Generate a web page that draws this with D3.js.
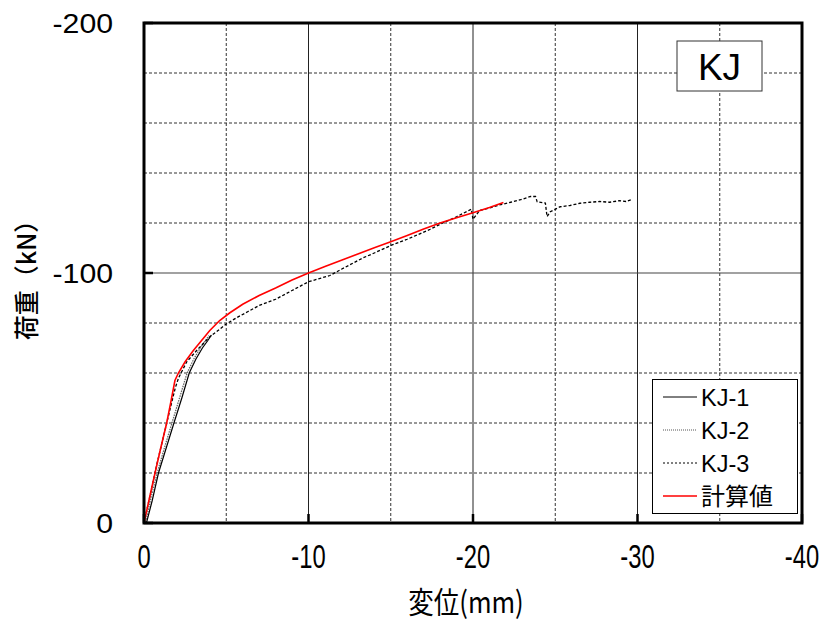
<!DOCTYPE html>
<html><head><meta charset="utf-8">
<script src="https://cdn.jsdelivr.net/npm/d3@7"></script>
<style>
html,body{margin:0;padding:0;background:#fff;}
svg{display:block;font-family:"Liberation Sans",Arial,sans-serif;}
.cjk{font-family:"Noto Sans CJK JP","Liberation Sans",sans-serif;}
</style></head>
<body><svg id="c" width="830" height="623"></svg>
<script>
// ---- data ----
const xTicks = [0, -10, -20, -30, -40];
const yTicks = [0, -100, -200];
const xMinor = [-5, -15, -25, -35];
const yMinor = [-20, -40, -60, -80, -120, -140, -160, -180];
const seriesNames = ["KJ-1", "KJ-2", "KJ-3", "計算値"];

const kj1X = [0, -0.15, -0.5, -0.88, -1.35, -1.82, -2.3, -2.75, -3.15, -3.55, -3.88, -4.1];
const kj1Y = [0, 0, -9, -20, -30, -40, -50, -60, -65.5, -70, -73, -75.2];

const kj2X = [0, -0.1, -0.42, -0.8, -1.24, -1.7, -2.16, -2.62, -3.02, -3.42, -3.74, -3.95];
const kj2Y = [0, 0, -10, -20, -30, -40, -50, -60, -65.5, -70, -73, -75];

const kj3X = [0, -0.4, -0.8, -1.2, -1.6, -1.9, -2.1, -2.6, -3.2, -4.0, -4.5, -5.0, -5.6, -6.3, -7.0, -8.0, -9.0, -10.0, -11.3, -12.0, -13.3, -14.0, -15.0, -16.0, -17.4, -18.0, -19.0, -19.9, -20.0, -20.4, -21.0, -21.6, -22.3, -22.9, -23.5, -23.8, -23.9, -24.4, -24.5, -24.7, -25.3, -25.9, -26.5, -27.1, -27.7, -28.3, -28.9, -29.3, -29.7];
const kj3Y = [0, -12, -24, -35, -46, -54, -58, -64.5, -69, -74.5, -77, -79.6, -82, -84.5, -87, -89.5, -93, -96.5, -99, -101.5, -106, -108, -111, -113.5, -117.5, -119.5, -122.5, -125.5, -121.5, -125, -126, -127.2, -128.3, -129.3, -130.6, -130.6, -128.5, -128, -122.6, -124.5, -126.5, -127, -127.9, -128.3, -128.6, -128.3, -128.9, -128.6, -129.5];

const calcX = [0, -0.35, -0.67, -1.0, -1.38, -1.65, -1.88, -2.09, -2.5, -3.0, -3.5, -4.0, -4.6, -5.2, -6, -7, -8, -9, -10, -11, -12, -13, -14, -15, -16, -17, -18, -19, -20, -21, -21.85];
const calcY = [0, -10.5, -20, -29.5, -40, -49, -57, -60, -64.5, -69, -73, -77, -81, -84, -87.5, -91, -94, -97.2, -100, -102.6, -105.1, -107.6, -110.1, -112.5, -115, -117.6, -120, -122.1, -124.1, -126.2, -128.2];

// ---- chart ----
const svg = d3.select("#c");
const L = 144, R = 802, T = 23, B = 523;
const x = d3.scaleLinear().domain([0, -40]).range([L, R]);
const y = d3.scaleLinear().domain([0, -200]).range([B, T]);
const fmt = d => String(d);

svg.append("rect").attr("width", 830).attr("height", 623).attr("fill", "#fff");

const g = svg.append("g");
g.selectAll(".vx").data(xMinor).enter().append("line")
  .attr("x1", d => x(d)).attr("x2", d => x(d)).attr("y1", T).attr("y2", B)
  .attr("stroke", "#333").attr("stroke-width", 1).attr("stroke-dasharray", "3,2");
g.selectAll(".hy").data(yMinor).enter().append("line")
  .attr("x1", L).attr("x2", R).attr("y1", d => y(d)).attr("y2", d => y(d))
  .attr("stroke", "#333").attr("stroke-width", 1).attr("stroke-dasharray", "3,2");
g.selectAll(".vmx").data(xTicks.slice(1, -1)).enter().append("line")
  .attr("x1", d => x(d)).attr("x2", d => x(d)).attr("y1", T).attr("y2", B)
  .attr("stroke", "#222").attr("stroke-width", 1);
g.selectAll(".hmy").data(yTicks.slice(1, -1)).enter().append("line")
  .attr("x1", L).attr("x2", R).attr("y1", d => y(d)).attr("y2", d => y(d))
  .attr("stroke", "#444").attr("stroke-width", 1.2);

const line = d3.line().x(d => x(d[0])).y(d => y(d[1]));
const zip = (a, b) => a.map((v, i) => [v, b[i]]);
svg.append("path").datum(zip(kj2X, kj2Y)).attr("d", line).attr("fill", "none")
  .attr("stroke", "#666").attr("stroke-width", 1.3).attr("stroke-dasharray", "1.5,1");
svg.append("path").datum(zip(kj1X, kj1Y)).attr("d", line).attr("fill", "none")
  .attr("stroke", "#000").attr("stroke-width", 1.2);
svg.append("path").datum(zip(kj3X, kj3Y)).attr("d", line).attr("fill", "none")
  .attr("stroke", "#000").attr("stroke-width", 1.3).attr("stroke-dasharray", "3,2");
svg.append("path").datum(zip(calcX, calcY)).attr("d", line).attr("fill", "none")
  .attr("stroke", "#ff0000").attr("stroke-width", 1.6);

svg.selectAll(".xt").data(xTicks).enter().append("line")
  .attr("x1", d => x(d)).attr("x2", d => x(d)).attr("y1", B).attr("y2", B - 9)
  .attr("stroke", "#000").attr("stroke-width", 2.5);
svg.selectAll(".yt").data(yTicks).enter().append("line")
  .attr("x1", L).attr("x2", L + 9).attr("y1", d => y(d)).attr("y2", d => y(d))
  .attr("stroke", "#000").attr("stroke-width", 2.5);

svg.append("rect").attr("x", L).attr("y", T).attr("width", R - L).attr("height", B - T)
  .attr("fill", "none").attr("stroke", "#000").attr("stroke-width", 3);

svg.selectAll(".xl").data(xTicks).enter().append("text")
  .attr("transform", d => `translate(${x(d)},568) scale(0.7,1)`)
  .attr("text-anchor", "middle").attr("font-size", 34).attr("fill", "#000")
  .text(fmt);
svg.selectAll(".yl").data(yTicks).enter().append("text")
  .attr("transform", d => `translate(113,${y(d) + 10}) scale(1.08,1)`)
  .attr("text-anchor", "end").attr("font-size", 28).attr("fill", "#000")
  .text(fmt);

svg.append("text").attr("class", "cjk")
  .attr("transform", "translate(466,613) scale(0.85,1)")
  .attr("text-anchor", "middle").attr("font-size", 30).attr("fill", "#000")
  .text("変位(mm)");
svg.append("text").attr("class", "cjk")
  .attr("transform", "translate(36,274) rotate(-90)")
  .attr("text-anchor", "middle").attr("font-size", 25).attr("font-weight", 500).attr("fill", "#000")
  .text("荷重（kN）");

svg.append("rect").attr("x", 677).attr("y", 41).attr("width", 85).attr("height", 50)
  .attr("fill", "#fff").attr("stroke", "#333").attr("stroke-width", 1);
svg.append("text").attr("x", 719.5).attr("y", 80).attr("text-anchor", "middle")
  .attr("font-size", 37).attr("fill", "#000").text("KJ");

const lg = svg.append("g");
lg.append("rect").attr("x", 652.5).attr("y", 379.5).attr("width", 145).attr("height", 134)
  .attr("fill", "#fff").attr("stroke", "#000").attr("stroke-width", 1);
const legStyles = [
  {stroke: "#000", dash: null, w: 1},
  {stroke: "#555", dash: "1,1", w: 1},
  {stroke: "#000", dash: "2,2", w: 1},
  {stroke: "#ff0000", dash: null, w: 1.3}
];
const legY = [397, 430, 463, 496];
seriesNames.forEach((n, i) => {
  lg.append("line").attr("x1", 663).attr("x2", 697).attr("y1", legY[i]).attr("y2", legY[i])
    .attr("stroke", legStyles[i].stroke).attr("stroke-width", legStyles[i].w)
    .attr("stroke-dasharray", legStyles[i].dash);
  lg.append("text").attr("x", 701).attr("y", legY[i] + 8.5)
    .attr("class", i === 3 ? "cjk" : null)
    .attr("font-size", i === 3 ? 24 : 23.5).attr("fill", "#000").text(n);
});
</script></body></html>
